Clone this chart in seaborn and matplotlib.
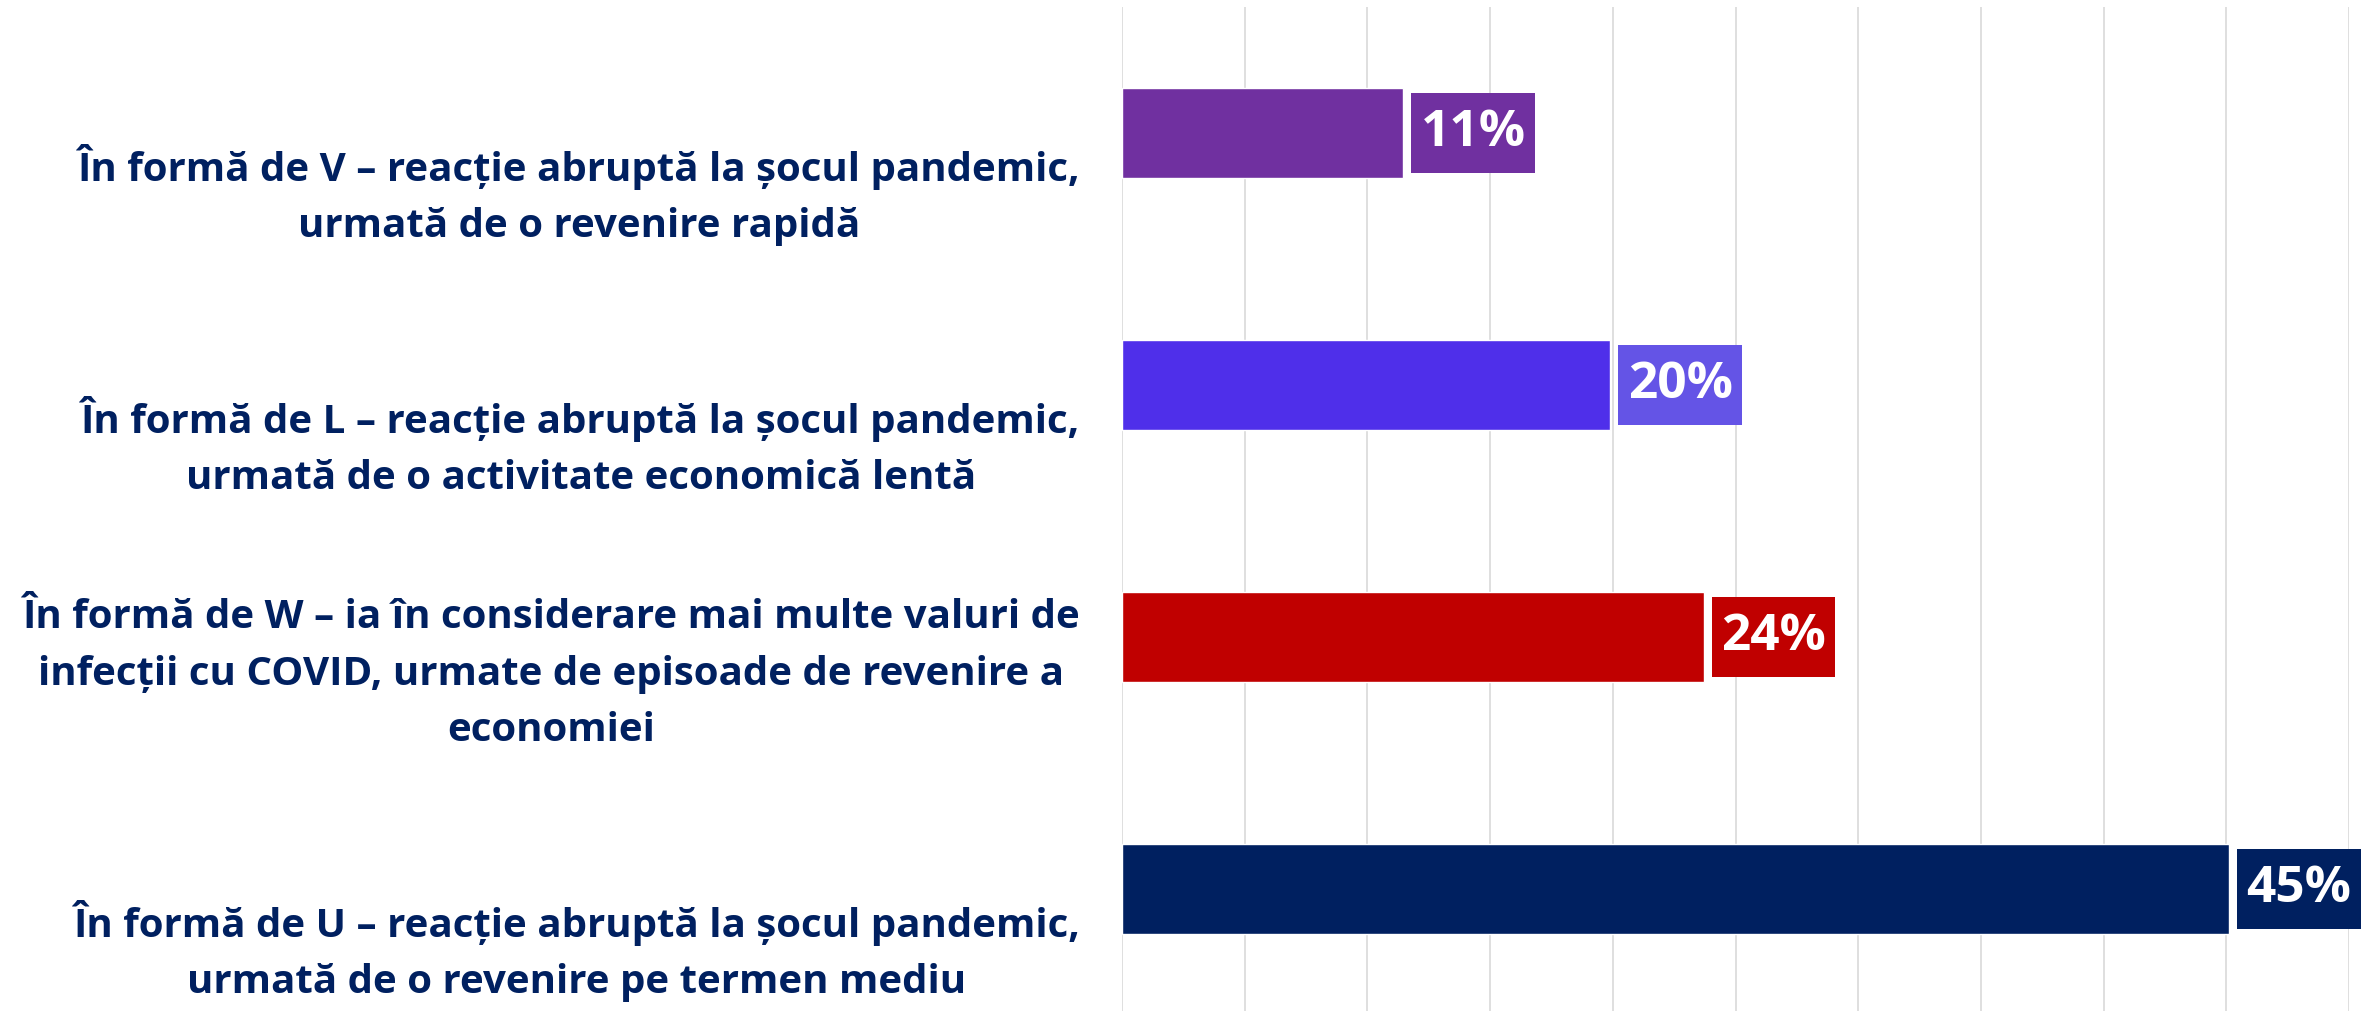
import matplotlib
matplotlib.use("Agg")
import matplotlib.pyplot as plt
from matplotlib.path import Path
import seaborn as sns
import numpy as np
import pandas as pd

# ---- data ----
categories = ["V", "L", "W", "U"]
category_labels = [
    "În formă de V – reacție abruptă la șocul pandemic,\nurmată de o revenire rapidă",
    "În formă de L – reacție abruptă la șocul pandemic,\nurmată de o activitate economică lentă",
    "În formă de W – ia în considerare mai multe valuri de\ninfecții cu COVID, urmate de episoade de revenire a\neconomiei",
    "În formă de U – reacție abruptă la șocul pandemic,\nurmată de o revenire pe termen mediu",
]
values = [11.45, 19.9, 23.7, 45.1]
bar_colors = ["#7030A0", "#4F2FEA", "#C00000", "#002060"]
box_colors = ["#7030A0", "#6454E6", "#C00000", "#002060"]
x_ticks = list(range(0, 51, 5))

df = pd.DataFrame({"cat": categories, "val": values})

sns.set_theme(style="white")
FAM = ["Open Sans", "DejaVu Sans"]
plt.rcParams["font.family"] = FAM

W, H, DPI = 2369, 1011, 100
fig = plt.figure(figsize=(W / DPI, H / DPI), dpi=DPI)
fig.patch.set_facecolor("white")
ax = fig.add_axes([1122 / W, 0, (2349 - 1122) / W, 1 - 6.7 / H])

sns.barplot(data=df, x="val", y="cat", hue="cat", order=categories,
            hue_order=categories, palette=bar_colors, legend=False,
            width=0.357, orient="h", ax=ax, saturation=1, zorder=3)

ax.set_xlim(0, 50)
ax.set_ylim((H - 6.7) / 252 - 0.5, -0.5)
ax.set_xticks(x_ticks)
ax.set_xticklabels([])
ax.grid(axis="x", color="#D9D9D9", linewidth=1.2, zorder=0)
ax.grid(axis="y", visible=False)
ax.set_axisbelow(True)
for s in ax.spines.values():
    s.set_visible(False)
ax.set_xlabel("")
ax.set_ylabel("")
ax.tick_params(axis="both", length=0)
ax.tick_params(axis="y", pad=30)

ax.set_yticks(np.arange(len(categories)) + 0.45)
ax.set_yticklabels(category_labels, fontsize=29, fontweight="bold",
                   color="#002060", ha="right", va="bottom",
                   multialignment="center", linespacing=1.58,
                   family=FAM)

PADX, PADY = 9.5, 15.0  # pixels


def label_box(x0, y0, width, height, mutation_size):
    x0 -= PADX
    y0 -= PADY
    width += 2 * PADX
    height += 2 * PADY
    return Path([(x0, y0), (x0 + width, y0), (x0 + width, y0 + height),
                 (x0, y0 + height), (x0, y0)], closed=True)


for i, (v, c) in enumerate(zip(values, box_colors)):
    ax.annotate(f"{round(v)}%", xy=(v, i), xytext=((8 + PADX) * 72 / DPI, 0),
                textcoords="offset points", ha="left", va="center",
                fontsize=37, fontweight="bold", color="white",
                family=FAM,
                bbox=dict(boxstyle=label_box, fc=c, ec="none"),
                zorder=5, annotation_clip=False)

fig.savefig("out.png", dpi=DPI, facecolor="white")
